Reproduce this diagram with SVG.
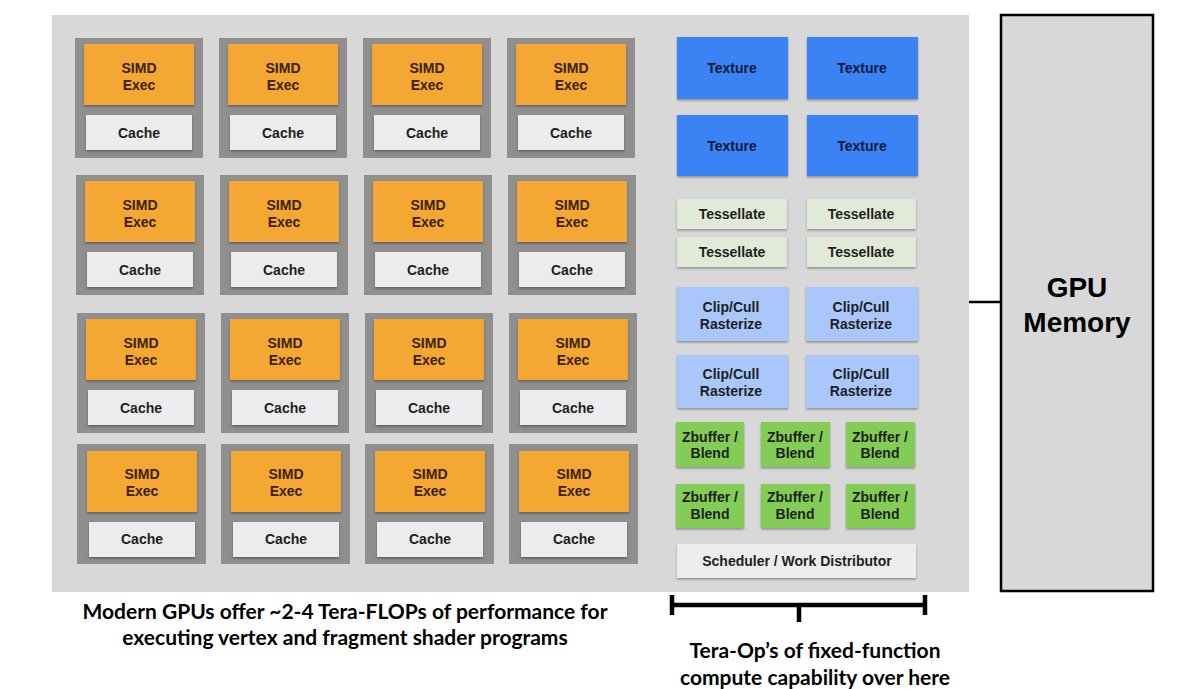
<svg xmlns="http://www.w3.org/2000/svg" width="1181" height="689" viewBox="0 0 1181 689">
<defs>
<filter id="sh" x="-10%" y="-10%" width="120%" height="130%">
<feDropShadow dx="0" dy="1.5" stdDeviation="1" flood-color="#000" flood-opacity="0.35"/>
</filter>
</defs>
<style>
.lbl{font-family:"Liberation Sans",Arial,sans-serif;font-weight:bold;font-size:14px;text-anchor:middle}
.core{fill:#8f8f8f}
.simd{fill:#f4a733;filter:url(#sh)}
.simdt{fill:#3a2205}
.cache{fill:#ececec;filter:url(#sh)}
.dark{fill:#1e1e1e}
.tex{fill:#3a82f4;filter:url(#sh)}
.text{fill:#0b1a3c}
.tess{fill:#e1e9d8;filter:url(#sh)}
.clip{fill:#a9c7fb;filter:url(#sh)}
.zb{fill:#83cc55;filter:url(#sh)}
.sched{fill:#ececec;filter:url(#sh)}
.cap{font-family:Lato,"Noto Sans",sans-serif;font-weight:bold;font-size:21px;text-anchor:middle;fill:#000}
</style>
<rect x="0" y="0" width="1181" height="689" fill="#fff"/>
<g id="gpu-panel"><rect x="52" y="15" width="917" height="577" fill="#d8d8d8"/></g>

<g id="cores">
<g id="core-1-1" transform="translate(75,38)"><rect class="core" width="128" height="120"/><rect class="simd" x="9" y="6" width="110" height="61"/><text class="lbl simdt" x="64" y="35">SIMD</text><text class="lbl simdt" x="64" y="52">Exec</text><rect class="cache" x="11" y="77" width="106" height="35"/><text class="lbl dark" x="64" y="100">Cache</text></g>
<g id="core-1-2" transform="translate(219,38)"><rect class="core" width="128" height="120"/><rect class="simd" x="9" y="6" width="110" height="61"/><text class="lbl simdt" x="64" y="35">SIMD</text><text class="lbl simdt" x="64" y="52">Exec</text><rect class="cache" x="11" y="77" width="106" height="35"/><text class="lbl dark" x="64" y="100">Cache</text></g>
<g id="core-1-3" transform="translate(363,38)"><rect class="core" width="128" height="120"/><rect class="simd" x="9" y="6" width="110" height="61"/><text class="lbl simdt" x="64" y="35">SIMD</text><text class="lbl simdt" x="64" y="52">Exec</text><rect class="cache" x="11" y="77" width="106" height="35"/><text class="lbl dark" x="64" y="100">Cache</text></g>
<g id="core-1-4" transform="translate(507,38)"><rect class="core" width="128" height="120"/><rect class="simd" x="9" y="6" width="110" height="61"/><text class="lbl simdt" x="64" y="35">SIMD</text><text class="lbl simdt" x="64" y="52">Exec</text><rect class="cache" x="11" y="77" width="106" height="35"/><text class="lbl dark" x="64" y="100">Cache</text></g>

<g id="core-2-1" transform="translate(76,175)"><rect class="core" width="128" height="120"/><rect class="simd" x="9" y="6" width="110" height="61"/><text class="lbl simdt" x="64" y="35">SIMD</text><text class="lbl simdt" x="64" y="52">Exec</text><rect class="cache" x="11" y="77" width="106" height="35"/><text class="lbl dark" x="64" y="100">Cache</text></g>
<g id="core-2-2" transform="translate(220,175)"><rect class="core" width="128" height="120"/><rect class="simd" x="9" y="6" width="110" height="61"/><text class="lbl simdt" x="64" y="35">SIMD</text><text class="lbl simdt" x="64" y="52">Exec</text><rect class="cache" x="11" y="77" width="106" height="35"/><text class="lbl dark" x="64" y="100">Cache</text></g>
<g id="core-2-3" transform="translate(364,175)"><rect class="core" width="128" height="120"/><rect class="simd" x="9" y="6" width="110" height="61"/><text class="lbl simdt" x="64" y="35">SIMD</text><text class="lbl simdt" x="64" y="52">Exec</text><rect class="cache" x="11" y="77" width="106" height="35"/><text class="lbl dark" x="64" y="100">Cache</text></g>
<g id="core-2-4" transform="translate(508,175)"><rect class="core" width="128" height="120"/><rect class="simd" x="9" y="6" width="110" height="61"/><text class="lbl simdt" x="64" y="35">SIMD</text><text class="lbl simdt" x="64" y="52">Exec</text><rect class="cache" x="11" y="77" width="106" height="35"/><text class="lbl dark" x="64" y="100">Cache</text></g>

<g id="core-3-1" transform="translate(77,313)"><rect class="core" width="128" height="120"/><rect class="simd" x="9" y="6" width="110" height="61"/><text class="lbl simdt" x="64" y="35">SIMD</text><text class="lbl simdt" x="64" y="52">Exec</text><rect class="cache" x="11" y="77" width="106" height="35"/><text class="lbl dark" x="64" y="100">Cache</text></g>
<g id="core-3-2" transform="translate(221,313)"><rect class="core" width="128" height="120"/><rect class="simd" x="9" y="6" width="110" height="61"/><text class="lbl simdt" x="64" y="35">SIMD</text><text class="lbl simdt" x="64" y="52">Exec</text><rect class="cache" x="11" y="77" width="106" height="35"/><text class="lbl dark" x="64" y="100">Cache</text></g>
<g id="core-3-3" transform="translate(365,313)"><rect class="core" width="128" height="120"/><rect class="simd" x="9" y="6" width="110" height="61"/><text class="lbl simdt" x="64" y="35">SIMD</text><text class="lbl simdt" x="64" y="52">Exec</text><rect class="cache" x="11" y="77" width="106" height="35"/><text class="lbl dark" x="64" y="100">Cache</text></g>
<g id="core-3-4" transform="translate(509,313)"><rect class="core" width="128" height="120"/><rect class="simd" x="9" y="6" width="110" height="61"/><text class="lbl simdt" x="64" y="35">SIMD</text><text class="lbl simdt" x="64" y="52">Exec</text><rect class="cache" x="11" y="77" width="106" height="35"/><text class="lbl dark" x="64" y="100">Cache</text></g>

<g id="core-4-1" transform="translate(77,444)"><rect class="core" width="129" height="120"/><rect class="simd" x="10" y="7" width="110" height="61"/><text class="lbl simdt" x="65" y="35">SIMD</text><text class="lbl simdt" x="65" y="52">Exec</text><rect class="cache" x="12" y="78" width="106" height="35"/><text class="lbl dark" x="65" y="100">Cache</text></g>
<g id="core-4-2" transform="translate(221,444)"><rect class="core" width="129" height="120"/><rect class="simd" x="10" y="7" width="110" height="61"/><text class="lbl simdt" x="65" y="35">SIMD</text><text class="lbl simdt" x="65" y="52">Exec</text><rect class="cache" x="12" y="78" width="106" height="35"/><text class="lbl dark" x="65" y="100">Cache</text></g>
<g id="core-4-3" transform="translate(365,444)"><rect class="core" width="129" height="120"/><rect class="simd" x="10" y="7" width="110" height="61"/><text class="lbl simdt" x="65" y="35">SIMD</text><text class="lbl simdt" x="65" y="52">Exec</text><rect class="cache" x="12" y="78" width="106" height="35"/><text class="lbl dark" x="65" y="100">Cache</text></g>
<g id="core-4-4" transform="translate(509,444)"><rect class="core" width="129" height="120"/><rect class="simd" x="10" y="7" width="110" height="61"/><text class="lbl simdt" x="65" y="35">SIMD</text><text class="lbl simdt" x="65" y="52">Exec</text><rect class="cache" x="12" y="78" width="106" height="35"/><text class="lbl dark" x="65" y="100">Cache</text></g>
</g>

<g id="fixed-function">
<g id="texture-1"><rect class="tex" x="677" y="37" width="111" height="62"/><text class="lbl text" x="732" y="73">Texture</text></g>
<g id="texture-2"><rect class="tex" x="807" y="37" width="111" height="62"/><text class="lbl text" x="862" y="73">Texture</text></g>
<g id="texture-3"><rect class="tex" x="677" y="115" width="111" height="61"/><text class="lbl text" x="732" y="151">Texture</text></g>
<g id="texture-4"><rect class="tex" x="807" y="115" width="111" height="61"/><text class="lbl text" x="862" y="151">Texture</text></g>

<g id="tess-1"><rect class="tess" x="677" y="199" width="110" height="30"/><text class="lbl dark" x="732" y="219">Tessellate</text></g>
<g id="tess-2"><rect class="tess" x="807" y="199" width="109" height="30"/><text class="lbl dark" x="861" y="219">Tessellate</text></g>
<g id="tess-3"><rect class="tess" x="677" y="237" width="110" height="30"/><text class="lbl dark" x="732" y="257">Tessellate</text></g>
<g id="tess-4"><rect class="tess" x="807" y="237" width="109" height="30"/><text class="lbl dark" x="861" y="257">Tessellate</text></g>

<g id="clip-1"><rect class="clip" x="677" y="287" width="111" height="54"/><text class="lbl dark" x="731" y="312">Clip/Cull</text><text class="lbl dark" x="731" y="329">Rasterize</text></g>
<g id="clip-2"><rect class="clip" x="806" y="287" width="112" height="54"/><text class="lbl dark" x="861" y="312">Clip/Cull</text><text class="lbl dark" x="861" y="329">Rasterize</text></g>
<g id="clip-3"><rect class="clip" x="677" y="355" width="111" height="53"/><text class="lbl dark" x="731" y="379">Clip/Cull</text><text class="lbl dark" x="731" y="396">Rasterize</text></g>
<g id="clip-4"><rect class="clip" x="806" y="355" width="112" height="53"/><text class="lbl dark" x="861" y="379">Clip/Cull</text><text class="lbl dark" x="861" y="396">Rasterize</text></g>

<g id="zb-1"><rect class="zb" x="676" y="422" width="68" height="45"/><text class="lbl dark" x="710" y="442">Zbuffer /</text><text class="lbl dark" x="710" y="458">Blend</text></g>
<g id="zb-2"><rect class="zb" x="761" y="422" width="69" height="45"/><text class="lbl dark" x="795" y="442">Zbuffer /</text><text class="lbl dark" x="795" y="458">Blend</text></g>
<g id="zb-3"><rect class="zb" x="846" y="422" width="69" height="45"/><text class="lbl dark" x="880" y="442">Zbuffer /</text><text class="lbl dark" x="880" y="458">Blend</text></g>
<g id="zb-4"><rect class="zb" x="676" y="484" width="68" height="44"/><text class="lbl dark" x="710" y="502">Zbuffer /</text><text class="lbl dark" x="710" y="519">Blend</text></g>
<g id="zb-5"><rect class="zb" x="761" y="484" width="69" height="44"/><text class="lbl dark" x="795" y="502">Zbuffer /</text><text class="lbl dark" x="795" y="519">Blend</text></g>
<g id="zb-6"><rect class="zb" x="846" y="484" width="69" height="44"/><text class="lbl dark" x="880" y="502">Zbuffer /</text><text class="lbl dark" x="880" y="519">Blend</text></g>

<g id="scheduler"><rect class="sched" x="677" y="544" width="239" height="34"/><text class="lbl dark" x="797" y="566">Scheduler / Work Distributor</text></g>
</g>

<g id="gpu-memory"><rect x="1001" y="15" width="152" height="576" fill="#d8d8d8" stroke="#000" stroke-width="2.5"/><text class="lbl" style="font-size:28px" x="1077" y="297" fill="#000">GPU</text><text class="lbl" style="font-size:28px" x="1077" y="332" fill="#000">Memory</text></g>

<g id="connectors" stroke="#000" fill="none">
<line x1="969" y1="302" x2="1001" y2="302" stroke-width="2.5"/>
<path d="M672 595V615M672 605H925M925 595V615M799 605V622" stroke-width="4.5"/>
</g>

<g id="captions">
<text class="cap" x="345" y="619">Modern GPUs offer ~2-4 Tera-FLOPs of performance for</text>
<text class="cap" x="345" y="645">executing vertex and fragment shader programs</text>
<text class="cap" x="815" y="658">Tera-Op’s of fixed-function</text>
<text class="cap" x="815" y="685">compute capability over here</text>
</g>
</svg>
